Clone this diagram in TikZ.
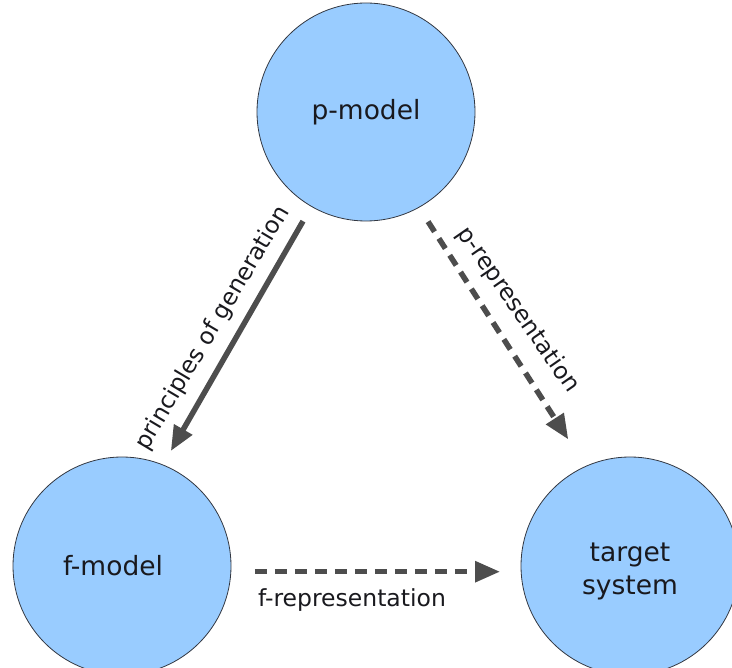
\documentclass[tikz,border=0pt]{standalone}
\usepackage{fontspec}
\setmainfont{DejaVu Sans}
\usetikzlibrary{arrows.meta}
\definecolor{ballfill}{RGB}{153,204,255}
\definecolor{ballline}{RGB}{50,55,65}
\definecolor{arrowgray}{RGB}{77,77,77}
\definecolor{txt}{RGB}{25,25,30}
\begin{document}
\begin{tikzpicture}[x=1pt,y=-1pt,
  ball/.style={circle,draw=ballline,line width=0.8pt,fill=ballfill,minimum size=218pt,inner sep=0pt,outer sep=0pt},
  balltext/.style={font=\fontsize{26.5}{33}\selectfont,text=txt,align=center,inner sep=0pt},
  conn/.style={draw=arrowgray,line width=5.5pt,-{Triangle[length=25pt,width=20pt]}},
  dashconn/.style={conn,dash pattern=on 12pt off 8pt},
  lab/.style={font=\fontsize{23.5}{28}\selectfont,text=txt,inner sep=0pt}]
\useasboundingbox (0,0) rectangle (732,668);
\node[ball,label={[balltext]center:p-model}] (p) at (366,112) {};
\node[ball,label={[balltext,xshift=-9pt]center:f-model}] (f) at (122,566) {};
\node[ball,label={[balltext,yshift=-5pt]center:target\\system}] (t) at (630,566) {};
\draw[conn,shorten <=17pt,shorten >=16pt] (p.240) -- (f.68);
\draw[dashconn,shorten <=17pt,shorten >=32pt] (p.299) -- (t.114);
\draw[dashconn,shorten <=24pt,shorten >=21pt] (f.-3.7) -- (t.183.7);
\node[lab,rotate=59.3] (lg) at (213,328) {principles of generation};
\node[lab,rotate=-55.2] (lp) at (518,310) {p-representation};
\node[lab] (lf) at (352,600) {f-representation};
\end{tikzpicture}
\end{document}
